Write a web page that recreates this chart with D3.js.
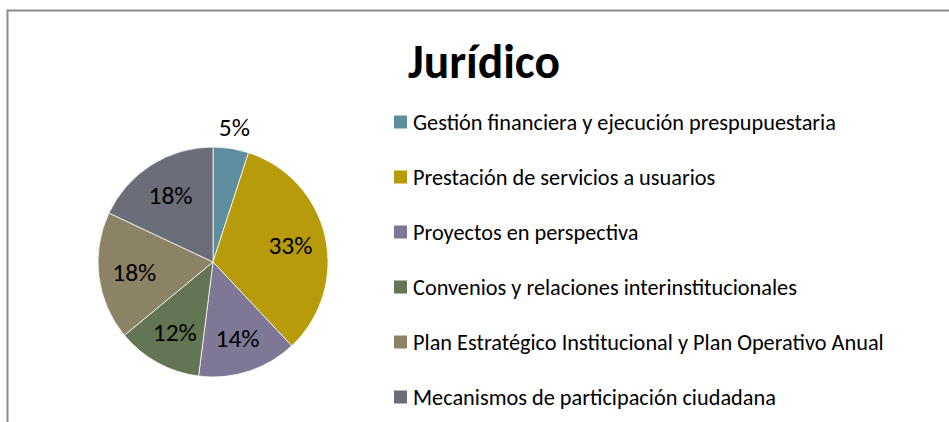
<!DOCTYPE html>
<html><head><meta charset="utf-8">
<script src="https://cdn.jsdelivr.net/npm/d3@7"></script>
<style>body{margin:0;background:#fff}svg{display:block}</style>
</head><body>
<svg id="c" width="949" height="422"></svg>
<script>
const title = "Jurídico";
const categories = [
  "Gestión financiera y ejecución prespupuestaria",
  "Prestación de servicios a usuarios",
  "Proyectos en perspectiva",
  "Convenios y relaciones interinstitucionales",
  "Plan Estratégico Institucional y Plan Operativo Anual",
  "Mecanismos de participación ciudadana"
];
const values = [5, 33, 14, 12, 18, 18];
const colors = ["#5e8e9d", "#b89b0b", "#7e7896", "#647553", "#8c8266", "#6b6e78"];

const svg = d3.select("#c");
const FONT = "Carlito, Calibri, Lato, sans-serif";

// border
svg.append("path")
  .attr("d", "M7.5,422 V10.5 H949")
  .attr("fill", "none").attr("stroke", "#8c8c8c").attr("stroke-width", 2);

// title
svg.append("text").attr("x", 484).attr("y", 78)
  .attr("text-anchor", "middle")
  .attr("font-family", FONT).attr("font-weight", "bold")
  .attr("font-size", 47.5).attr("fill", "#000").text(title);

const cx = 213, cy = 262, r = 115;
const pie = d3.pie().sort(null).value(d => d);
const arcs = pie(values);
const arc = d3.arc().innerRadius(0).outerRadius(r);
const g = svg.append("g").attr("transform", `translate(${cx},${cy})`);
g.selectAll("path").data(arcs).join("path")
  .attr("d", arc)
  .attr("fill", (d, i) => colors[i])
  .attr("stroke", "#fff").attr("stroke-width", 0.75);

const total = d3.sum(values);
const inArc = d3.arc().innerRadius(r * 0.69).outerRadius(r * 0.69);
const outArc = d3.arc().innerRadius(r * 1.19).outerRadius(r * 1.19);
g.selectAll("text").data(arcs).join("text")
  .attr("transform", d => {
    const p = (d.data / total < 0.08 ? outArc : inArc).centroid(d);
    return `translate(${p[0]},${p[1]})`;
  })
  .attr("text-anchor", "middle").attr("dy", "0.36em")
  .attr("font-family", FONT).attr("font-size", 25.5).attr("fill", "#000")
  .text(d => Math.round(d.data / total * 100) + "%");

// legend
const lg = svg.append("g");
const rows = lg.selectAll("g").data(categories).join("g")
  .attr("transform", (d, i) => `translate(394,${122 + i * 55})`);
rows.append("rect").attr("x", 0).attr("y", -6.5).attr("width", 13).attr("height", 13)
  .attr("fill", (d, i) => colors[i]);
rows.append("text").attr("x", 19).attr("dy", "0.36em")
  .attr("font-family", FONT).attr("font-size", 22.3).attr("fill", "#000")
  .text(d => d);
</script>
</body></html>
